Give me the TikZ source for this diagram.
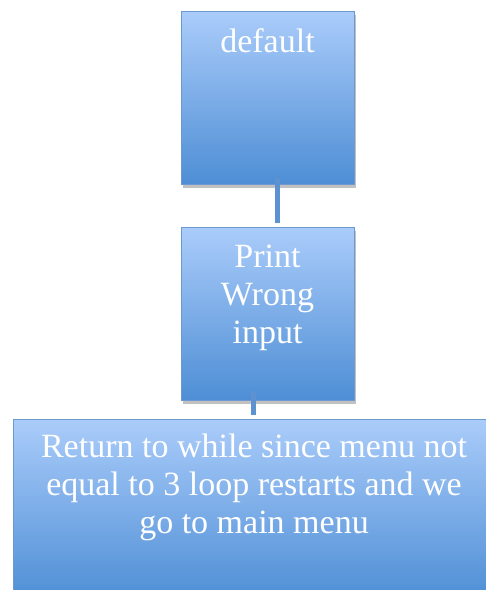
\documentclass[tikz,border=0pt]{standalone}
\usepackage{fontspec}
\setmainfont{Liberation Serif}
\usetikzlibrary{shadows}

\definecolor{boxtop}{RGB}{170,204,250}
\definecolor{boxbot}{RGB}{78,142,213}
\definecolor{boxline}{RGB}{108,154,208}
\definecolor{linkblue}{RGB}{91,146,207}

\tikzset{
  flowbox/.style={draw=boxline, line width=0.8pt, top color=boxtop, bottom color=boxbot,
    drop shadow={opacity=0.35, fill=black!70, shadow xshift=2pt, shadow yshift=-4pt},
    text=white, align=center, anchor=north, inner xsep=4pt, inner ysep=0pt,
    minimum width=173pt, text height=41pt, text depth=132pt,
    font=\fontsize{34}{38}\selectfont},
  link/.style={linkblue, line width=5pt}
}

\begin{document}
\begin{tikzpicture}[x=1pt, y=1pt]
\useasboundingbox (0,0) rectangle (486,590);

\node[flowbox] (dflt) at (267.5,579) {default};
\node[flowbox, text height=116pt, text depth=57pt] (wrong) at (267.5,363) {Print\\Wrong\\input};
\node[flowbox, minimum width=482pt, text height=114pt, text depth=67pt] (back) at (254,171)
  {Return to while since menu not\\equal to 3 loop restarts and we\\go to main menu};

\draw[link] ([xshift=9.5pt, yshift=7pt]dflt.south) -- ([xshift=9.5pt, yshift=4pt]wrong.north);
\draw[link] ([xshift=-14.5pt, yshift=10pt]wrong.south) -- ([xshift=-14.5pt, yshift=4pt]wrong.south |- back.north);

\end{tikzpicture}
\end{document}
